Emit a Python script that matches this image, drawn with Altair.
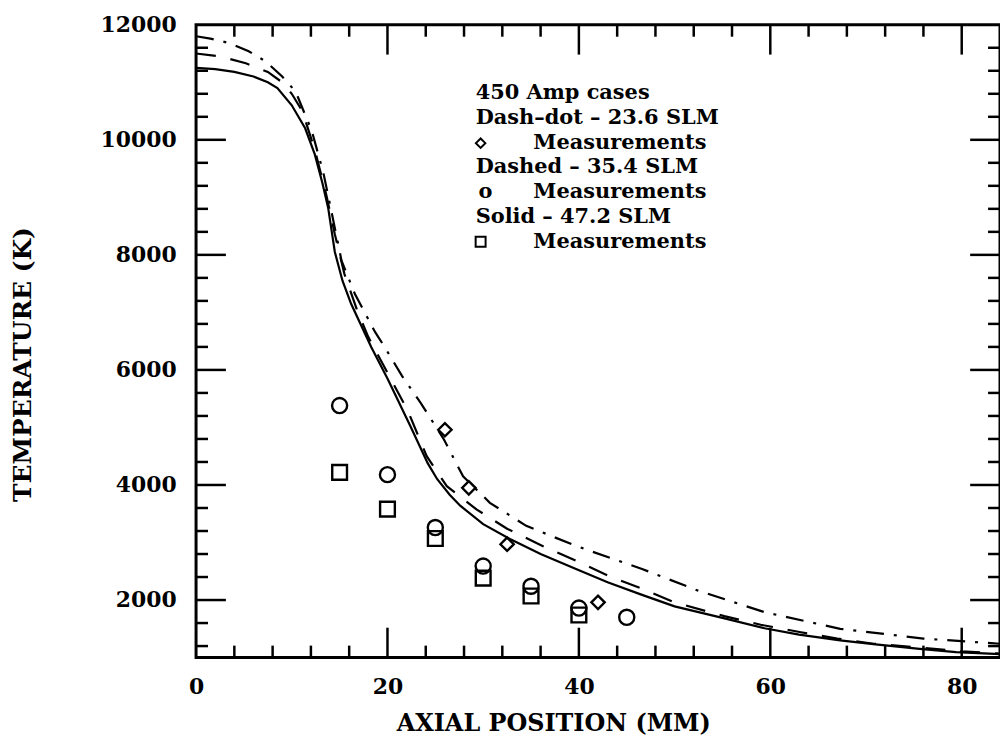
import altair as alt
import pandas as pd

# ---- data ----
solid_x = [0, 2, 4, 6, 7.5, 8.5, 10, 11.4, 12.4, 13.2, 13.8, 14.5, 15.3, 16.2, 18.3, 20, 22.4, 24.2, 25.2,
           26.5, 27.6, 30, 32.8, 36, 39.7, 43, 46.6, 50, 55, 59.4, 63, 67.3, 71, 75.6, 79.4, 84]
solid_y = [11250, 11230, 11180, 11100, 11000, 10900, 10600, 10200, 9750, 9250, 8820, 8050, 7550, 7150, 6400,
           5850, 5020, 4380, 4100, 3830, 3640, 3320, 3060, 2800, 2540, 2310, 2090, 1890, 1690, 1510, 1400,
           1300, 1230, 1150, 1095, 1060]

dashed_x = [0, 2.5, 5.2, 7.5, 9, 10, 11.1, 12.4, 13.6, 14.5, 15.5, 16.8, 18, 20, 22.1, 24.1, 26.2, 29.3,
            32.5, 36.2, 40, 43.1, 47, 50, 55.2, 59, 63.2, 67, 70.8, 76, 80, 84]
dashed_y = [11500, 11450, 11330, 11180, 11000, 10800, 10500, 9830, 9050, 8360, 7670, 7050, 6570, 5950, 5300,
            4500, 3980, 3575, 3240, 2940, 2660, 2420, 2170, 1960, 1720, 1570, 1440, 1330, 1240, 1170, 1110, 1070]

dashdot_x = [0, 1.5, 3.5, 5.5, 7.3, 9, 10.4, 12.1, 13.3, 14.2, 15.2, 16.6, 18.7, 19.7, 21.5, 23.5, 25.9,
             27.9, 30.7, 34.5, 39.7, 46.6, 52.5, 59.4, 67.3, 76, 84]
dashdot_y = [11800, 11760, 11680, 11540, 11360, 11100, 10840, 10150, 9430, 8710, 7900, 7320, 6660, 6400,
             5900, 5420, 4790, 4150, 3690, 3290, 2940, 2540, 2160, 1790, 1500, 1330, 1240]

diamond_x = [26, 28.5, 32.5, 42]
diamond_y = [4960, 3950, 2970, 1960]
circle_x = [15, 20, 25, 30, 35, 40, 45]
circle_y = [5380, 4180, 3260, 2590, 2240, 1860, 1700]
square_x = [15, 20, 25, 30, 35, 40]
square_y = [4220, 3580, 3070, 2380, 2070, 1740]

x_label_values = [0, 20, 40, 60, 80]
y_label_values = [2000, 4000, 6000, 8000, 10000, 12000]
x_major_ticks = [20, 40, 60, 80]
x_minor_ticks = [4, 8, 12, 16, 24, 28, 32, 36, 44, 48, 52, 56, 64, 68, 72, 76]
y_major_ticks = [2000, 4000, 6000, 8000, 10000]
y_minor_ticks = [1200, 1600, 2400, 2800, 3200, 3600, 4400, 4800, 5200, 5600, 6400, 6800, 7200, 7600,
                 8400, 8800, 9200, 9600, 10400, 10800, 11200, 11600]

legend_title = "450 Amp cases"
legend_lines = ["Dash–dot – 23.6 SLM", "Dashed – 35.4 SLM", "Solid – 47.2 SLM"]
legend_meas = "Measurements"

# ---- layout / style ----
W, H = 808, 636
SERIF = "DejaVu Serif"
xs = alt.Scale(domain=[0, 84], nice=False, zero=False)
ys = alt.Scale(domain=[1000, 12000], nice=False, zero=False)

X_AXIS = alt.Axis(values=x_label_values, format="d", labelFont=SERIF, labelFontSize=22,
                  labelFontWeight="bold", labelColor="black", labelPadding=19, labelFlush=False,
                  labelOverlap=False, ticks=False, tickSize=0, domain=False, grid=False,
                  title="AXIAL POSITION (MM)", titleFont=SERIF, titleFontSize=24, titleFontWeight="bold",
                  titleColor="black", titleX=359, titleY=73, titleAlign="center",
                  titleBaseline="alphabetic")
Y_AXIS = alt.Axis(values=y_label_values, format="d", labelFont=SERIF, labelFontSize=22,
                  labelFontWeight="bold", labelColor="black", labelPadding=20, labelFlush=False,
                  labelOverlap=False, ticks=False, tickSize=0, domain=False, grid=False,
                  title="TEMPERATURE (K)", titleFont=SERIF, titleFontSize=25, titleFontWeight="bold",
                  titleColor="black", titleX=-174, titleY=341, titleAngle=270, titleAlign="center",
                  titleBaseline="middle")

XENC = dict(scale=xs, axis=X_AXIS)
YENC = dict(scale=ys, axis=Y_AXIS)


def curve(xv, yv, dash=None):
    df = pd.DataFrame({"x": xv, "y": yv})
    kw = dict(color="black", strokeWidth=2.2)
    if dash:
        kw["strokeDash"] = dash
    return alt.Chart(df).mark_line(**kw).encode(
        x=alt.X("x:Q", **XENC),
        y=alt.Y("y:Q", **YENC),
        order="x:Q",
    )


def markers(xv, yv, shape, size):
    df = pd.DataFrame({"x": xv, "y": yv})
    return alt.Chart(df).mark_point(shape=shape, size=size, filled=False, color="black",
                                    strokeWidth=2.4, opacity=1).encode(
        x=alt.X("x:Q", **XENC),
        y=alt.Y("y:Q", **YENC),
    )


def xticks(vals, length, top):
    df = pd.DataFrame({"x": vals})
    y0 = 0 if top else H
    y1 = length if top else H - length
    return alt.Chart(df).mark_rule(color="black", strokeWidth=2.5).encode(
        x=alt.X("x:Q", **XENC), y=alt.value(y0), y2=alt.value(y1))


def yticks(vals, length, right):
    df = pd.DataFrame({"y": vals})
    x0 = W if right else 0
    x1 = W - length if right else length
    return alt.Chart(df).mark_rule(color="black", strokeWidth=2.5).encode(
        y=alt.Y("y:Q", **YENC), x=alt.value(x0), x2=alt.value(x1))


def label(text, px, py, font=SERIF, size=21, align="left"):
    df = pd.DataFrame({"t": [text]})
    return alt.Chart(df).mark_text(font=font, fontSize=size, fontWeight="bold", color="black",
                                   align=align, baseline="alphabetic").encode(
        text="t:N", x=alt.value(px), y=alt.value(py))


def legend_symbol(shape, px, py, size):
    df = pd.DataFrame({"s": [shape]})
    return alt.Chart(df).mark_point(shape=shape, size=size, filled=False, color="black",
                                    strokeWidth=2, opacity=1).encode(
        x=alt.value(px), y=alt.value(py))


LX = 281
LM = 339
base = [75, 100, 125, 149, 174, 199, 224]

layers = [
    curve(solid_x, solid_y),
    curve(dashed_x, dashed_y, [20, 15]),
    curve(dashdot_x, dashdot_y, [18, 10, 3, 10]),
    markers(diamond_x, diamond_y, "diamond", 180),
    markers(circle_x, circle_y, "circle", 230),
    markers(square_x, square_y, "square", 220),
    xticks(x_major_ticks, 30, False), xticks(x_minor_ticks, 12, False),
    xticks(x_major_ticks, 30, True), xticks(x_minor_ticks, 12, True),
    yticks(y_major_ticks, 30, False), yticks(y_minor_ticks, 12, False),
    yticks(y_major_ticks, 30, True), yticks(y_minor_ticks, 12, True),
    label(legend_title, LX, base[0]),
    label(legend_lines[0], LX, base[1]),
    legend_symbol("diamond", LX + 5, base[2] - 6, 90),
    label(legend_meas, LM, base[2]),
    label(legend_lines[1], LX, base[3]),
    label("o", LX + 10, base[4], align="center"),
    label(legend_meas, LM, base[4]),
    label(legend_lines[2], LX, base[5]),
    legend_symbol("square", LX + 5, base[6] - 6, 100),
    label(legend_meas, LM, base[6]),
]

chart = alt.layer(*layers).properties(
    width=W, height=H, autosize="none", background="white",
    padding={"left": 189, "top": 15, "right": 0, "bottom": 79},
).configure_view(stroke="black", strokeWidth=3)

chart.save("out.html", embed_options={"renderer": "svg", "actions": False})
